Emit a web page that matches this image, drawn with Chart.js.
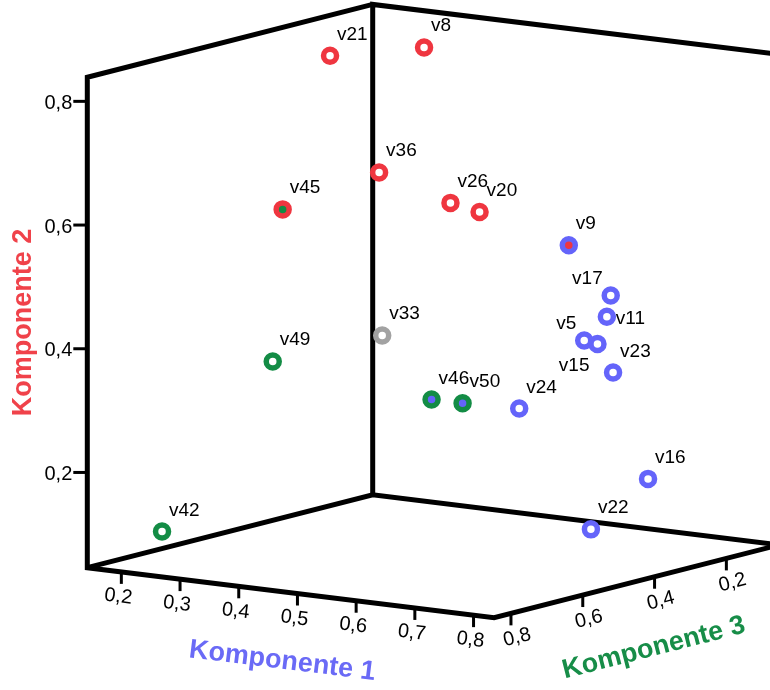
<!DOCTYPE html>
<html>
<head>
<meta charset="utf-8">
<script src="https://cdn.jsdelivr.net/npm/chart.js@4/dist/chart.umd.min.js"></script>
<style>
  html, body { margin: 0; padding: 0; background: #fff; }
  #wrap { width: 770px; height: 690px; }
</style>
</head>
<body>
<div id="wrap"><canvas id="plot" width="770" height="690"></canvas></div>
<script>
// Komponentenladungen der Variablen
const varNames = ["v21", "v8", "v36", "v45", "v26", "v20", "v9", "v17", "v11", "v5",
                  "v15", "v23", "v24", "v16", "v22", "v49", "v42", "v46", "v50", "v33"];
const komp1 = [0.221, 0.320, 0.274, 0.232, 0.365, 0.384, 0.536, 0.638, 0.662, 0.654,
               0.646, 0.642, 0.635, 0.671, 0.696, 0.368, 0.210, 0.608, 0.722, 0.371];
const komp2 = [0.802, 0.812, 0.612, 0.577, 0.566, 0.546, 0.510, 0.448, 0.424, 0.392,
               0.378, 0.324, 0.302, 0.148, 0.099, 0.384, 0.098, 0.343, 0.365, 0.382];
const komp3 = [0.30, 0.20, 0.25, 0.45, 0.20, 0.15, 0.15, 0.20, 0.25, 0.30,
               0.25, 0.20, 0.45, 0.15, 0.35, 0.70, 0.75, 0.65, 0.75, 0.40];

// höchste Ladung (0 = keine eindeutige) und zweite Komponente bei Mischfällen
const group     = [2, 2, 2, 2, 2, 2, 1, 1, 1, 1, 1, 1, 1, 1, 1, 3, 3, 3, 3, 0];
const mixedWith = [0, 0, 0, 3, 0, 0, 2, 0, 0, 0, 0, 0, 0, 0, 0, 0, 0, 1, 1, 0];

const komp1Ticks = [0.2, 0.3, 0.4, 0.5, 0.6, 0.7, 0.8];
const komp2Ticks = [0.2, 0.4, 0.6, 0.8];
const komp3Ticks = [0.2, 0.4, 0.6, 0.8];

const komp1Range = [0.142, 0.835];
const komp2Range = [0.046, 0.839];
const komp3Range = [0.052, 0.847];

const axisTitles = ["Komponente 1", "Komponente 2", "Komponente 3"];

// where each name sits next to its point
const labelSide = ["ne", "ne", "ne", "ne", "ne", "ne", "ne", "nw", "e", "nw",
                   "sw", "ne", "ne", "ne", "ne", "ne", "ne", "ne", "ne", "ne"];

const compColor = { 0: "#a2a2a2", 1: "#6464fa", 2: "#ef3640", 3: "#138c45" };
const titleColor = ["#6a6af6", "#f0424a", "#178d48"];
const fontFamily = '"Liberation Sans", Arial, sans-serif';

// oblique view of the cube
const view = { x0: 87.3, y0: 567.7, a1: [587, 72.1], a2: [0, -618.5], a3: [359, -91.6] };

function project(k1, k2, k3) {
  const u = k1 - komp1Range[0];
  const v = k2 - komp2Range[0];
  const w = komp3Range[1] - k3;
  return {
    x: view.x0 + u * view.a1[0] + v * view.a2[0] + w * view.a3[0],
    y: view.y0 + u * view.a1[1] + v * view.a2[1] + w * view.a3[1]
  };
}

const [lo1, hi1] = komp1Range;
const [lo2, hi2] = komp2Range;
const [lo3, hi3] = komp3Range;

const boxEdges = [
  [[lo1, hi2, lo3], [lo1, hi2, hi3], [lo1, lo2, hi3], [hi1, lo2, hi3], [hi1, lo2, lo3]],
  [[lo1, lo2, hi3], [lo1, lo2, lo3], [hi1, lo2, lo3]],
  [[lo1, lo2, lo3], [lo1, hi2, lo3], [hi1, hi2, lo3]],
  [[hi1, lo2, lo3], [hi1, hi2, lo3]]
];

const pointData = varNames.map((n, i) => project(komp1[i], komp2[i], komp3[i]));

const datasets = [{
  label: "Variablen",
  data: pointData,
  order: 0,
  pointRadius: 6.5,
  pointHoverRadius: 6.5,
  pointBorderWidth: 5.5,
  pointHoverBorderWidth: 5.5,
  pointBorderColor: group.map(g => compColor[g]),
  pointBackgroundColor: mixedWith.map(m => m ? compColor[m] : "#ffffff"),
  showLine: false
}];

boxEdges.forEach(edge => {
  datasets.push({
    data: edge.map(c => project(c[0], c[1], c[2])),
    order: 1,
    showLine: true,
    borderColor: "#000",
    borderWidth: 5,
    borderJoinStyle: "miter",
    pointRadius: 0,
    pointHoverRadius: 0,
    tension: 0
  });
});

function fmt(t) {
  return t.toFixed(1).replace(".", ",");
}

const decorations = {
  id: "decorations",
  afterDatasetsDraw(chart) {
    const { ctx, scales } = chart;
    const px = p => ({ x: scales.x.getPixelForValue(p.x), y: scales.y.getPixelForValue(p.y) });

    ctx.save();
    ctx.strokeStyle = "#000";
    ctx.fillStyle = "#000";
    ctx.lineWidth = 3;
    ctx.font = "20px " + fontFamily;

    // Komponente 2 on the left edge
    ctx.textAlign = "right";
    ctx.textBaseline = "middle";
    komp2Ticks.forEach(t => {
      const p = px(project(lo1, t, hi3));
      ctx.beginPath();
      ctx.moveTo(p.x - 14, p.y);
      ctx.lineTo(p.x, p.y);
      ctx.stroke();
      ctx.fillText(fmt(t), p.x - 15, p.y + 2);
    });

    ctx.save();
    ctx.translate(24, (px(project(lo1, lo2, hi3)).y + px(project(lo1, hi2, hi3)).y) / 2);
    ctx.rotate(-Math.PI / 2);
    ctx.textAlign = "center";
    ctx.font = "bold 27px " + fontFamily;
    ctx.fillStyle = titleColor[1];
    ctx.fillText(axisTitles[1], 0, 0);
    ctx.restore();

    // floor axes
    function floorAxis(ticks, at, from, to, title, color) {
      const a = px(from), b = px(to);
      const ang = Math.atan2(b.y - a.y, b.x - a.x);
      const nx = -Math.sin(ang), ny = Math.cos(ang);
      ctx.font = "20px " + fontFamily;
      ctx.fillStyle = "#000";
      ctx.textAlign = "center";
      ctx.textBaseline = "middle";
      ticks.forEach(t => {
        const p = px(at(t));
        ctx.beginPath();
        ctx.moveTo(p.x, p.y);
        ctx.lineTo(p.x, p.y + 12);
        ctx.stroke();
        ctx.save();
        ctx.translate(p.x + nx * 25, p.y + ny * 25);
        ctx.rotate(ang);
        ctx.fillText(fmt(t), 0, 0);
        ctx.restore();
      });
      ctx.save();
      ctx.translate((a.x + b.x) / 2 + nx * 69, (a.y + b.y) / 2 + ny * 69);
      ctx.rotate(ang);
      ctx.font = "bold 27px " + fontFamily;
      ctx.fillStyle = color;
      ctx.fillText(title, 0, 0);
      ctx.restore();
    }

    floorAxis(komp1Ticks, t => project(t, lo2, hi3),
      project(lo1, lo2, hi3), project(hi1, lo2, hi3), axisTitles[0], titleColor[0]);
    floorAxis(komp3Ticks, t => project(hi1, lo2, t),
      project(hi1, lo2, hi3), project(hi1, lo2, lo3), axisTitles[2], titleColor[2]);

    // names of the variables
    ctx.font = "19px " + fontFamily;
    ctx.fillStyle = "#000";
    ctx.textBaseline = "alphabetic";
    chart.getDatasetMeta(0).data.forEach((el, i) => {
      const side = labelSide[i];
      if (side === "nw") {
        ctx.textAlign = "right";
        ctx.fillText(varNames[i], el.x - 8, el.y - 12);
      } else if (side === "sw") {
        ctx.textAlign = "right";
        ctx.fillText(varNames[i], el.x - 8, el.y + 27);
      } else if (side === "e") {
        ctx.textAlign = "left";
        ctx.fillText(varNames[i], el.x + 9, el.y + 7);
      } else {
        ctx.textAlign = "left";
        ctx.fillText(varNames[i], el.x + 7, el.y - 16);
      }
    });
    ctx.restore();
  }
};

new Chart(document.getElementById("plot"), {
  type: "scatter",
  data: { datasets: datasets },
  options: {
    responsive: false,
    animation: false,
    devicePixelRatio: 1,
    layout: { padding: 0, autoPadding: false },
    plugins: {
      legend: { display: false },
      tooltip: { enabled: false }
    },
    scales: {
      x: { type: "linear", display: false, min: 0, max: 770 },
      y: { type: "linear", display: false, min: 0, max: 690, reverse: true }
    }
  },
  plugins: [decorations]
});
</script>
</body>
</html>
